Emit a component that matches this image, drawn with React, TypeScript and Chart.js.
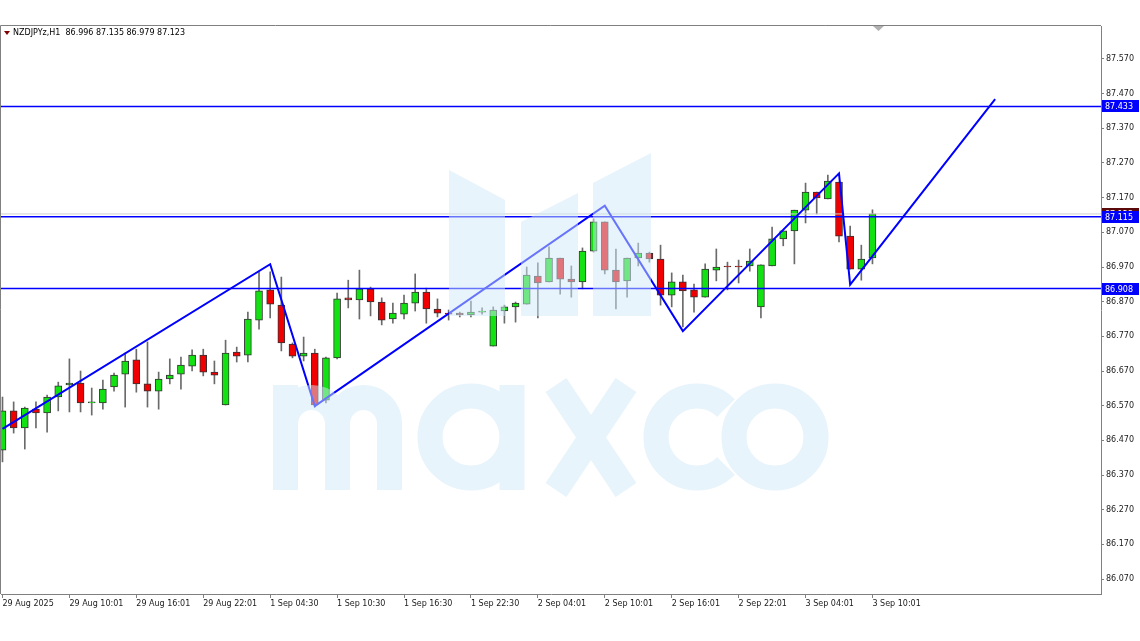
import React, { useEffect, useRef } from "react";
import { Chart, registerables } from "chart.js";

Chart.register(...registerables);

// ---------- data ----------
const symbolName = "NZDJPYz,H1";

const timeLabels = [
  "29 Aug 2025", "29 Aug 10:01", "29 Aug 16:01", "29 Aug 22:01",
  "1 Sep 04:30", "1 Sep 10:30", "1 Sep 16:30", "1 Sep 22:30",
  "2 Sep 04:01", "2 Sep 10:01", "2 Sep 16:01", "2 Sep 22:01",
  "3 Sep 04:01", "3 Sep 10:01",
];
const timeTickIndex = [0, 6, 12, 18, 24, 30, 36, 42, 48, 54, 60, 66, 72, 78];

const priceTicks = [
  86.07, 86.17, 86.27, 86.37, 86.47, 86.57, 86.67, 86.77,
  86.87, 86.97, 87.07, 87.17, 87.27, 87.37, 87.47, 87.57,
];

const opens = [
  86.442, 86.555, 86.506, 86.560, 86.549, 86.595, 86.630, 86.635, 86.578, 86.578,
  86.624, 86.661, 86.702, 86.633, 86.612, 86.647, 86.661, 86.684, 86.716, 86.667,
  86.572, 86.725, 86.716, 86.817, 86.904, 86.860, 86.748, 86.713, 86.722, 86.586,
  86.708, 86.881, 86.875, 86.907, 86.869, 86.820, 86.834, 86.866, 86.898, 86.849,
  86.837, 86.837, 86.832, 86.840, 86.742, 86.843, 86.855, 86.863, 86.944, 86.927,
  86.996, 86.935, 86.927, 87.016, 87.100, 86.961, 86.930, 86.996, 87.010, 86.993,
  86.889, 86.927, 86.904, 86.883, 86.961, 86.973, 86.973, 86.973, 86.855, 86.973,
  87.051, 87.074, 87.134, 87.186, 87.166, 87.215, 87.059, 86.964, 86.996,
];
const highs = [
  86.595, 86.581, 86.566, 86.581, 86.601, 86.638, 86.705, 86.670, 86.621, 86.644,
  86.664, 86.722, 86.733, 86.754, 86.667, 86.705, 86.710, 86.731, 86.733, 86.699,
  86.759, 86.739, 86.840, 86.956, 86.956, 86.941, 86.751, 86.768, 86.733, 86.710,
  86.895, 86.932, 86.961, 86.912, 86.881, 86.866, 86.889, 86.950, 86.909, 86.878,
  86.846, 86.840, 86.872, 86.852, 86.855, 86.860, 86.869, 86.970, 86.982, 87.028,
  86.996, 86.973, 87.025, 87.109, 87.100, 87.022, 86.996, 87.039, 87.013, 87.033,
  86.953, 86.947, 86.921, 86.979, 87.022, 86.984, 86.990, 87.022, 86.976, 87.085,
  87.074, 87.134, 87.212, 87.186, 87.235, 87.215, 87.088, 87.033, 87.135,
];
const lows = [
  86.408, 86.491, 86.445, 86.506, 86.494, 86.555, 86.552, 86.552, 86.543, 86.560,
  86.612, 86.566, 86.609, 86.566, 86.560, 86.633, 86.618, 86.670, 86.656, 86.633,
  86.572, 86.696, 86.696, 86.791, 86.823, 86.728, 86.708, 86.699, 86.566, 86.578,
  86.705, 86.852, 86.820, 86.829, 86.803, 86.808, 86.820, 86.843, 86.808, 86.826,
  86.817, 86.826, 86.826, 86.834, 86.742, 86.808, 86.811, 86.863, 86.823, 86.927,
  86.892, 86.883, 86.907, 87.013, 86.950, 86.849, 86.883, 86.973, 86.984, 86.860,
  86.855, 86.797, 86.840, 86.883, 86.930, 86.904, 86.924, 86.958, 86.823, 86.973,
  87.031, 86.979, 87.097, 87.123, 87.166, 87.042, 86.964, 86.932, 86.979,
];
const closes = [
  86.555, 86.506, 86.563, 86.549, 86.595, 86.627, 86.635, 86.578, 86.579, 86.618,
  86.658, 86.699, 86.633, 86.612, 86.647, 86.658, 86.687, 86.716, 86.667, 86.658,
  86.722, 86.713, 86.820, 86.901, 86.863, 86.751, 86.713, 86.722, 86.572, 86.708,
  86.878, 86.875, 86.907, 86.869, 86.817, 86.837, 86.866, 86.898, 86.849, 86.837,
  86.834, 86.832, 86.840, 86.843, 86.846, 86.855, 86.866, 86.947, 86.924, 86.996,
  86.935, 86.927, 87.016, 87.100, 86.961, 86.927, 86.996, 87.010, 86.993, 86.889,
  86.927, 86.901, 86.883, 86.964, 86.970, 86.970, 86.970, 86.987, 86.976, 87.051,
  87.074, 87.134, 87.186, 87.169, 87.218, 87.059, 86.964, 86.993, 87.123,
];

const zigzagIndex = [0, 24, 28, 54, 61, 75, 76, 89];
const zigzagPrice = [86.503, 86.978, 86.569, 87.147, 86.785, 87.240, 86.919, 87.454];

const levelPrices = [87.433, 87.115, 86.908];
const bidPrice = 87.123;

// ---------- style ----------
const X_MIN = -0.134;
const X_MAX = 98.49;
const Y_MIN = 86.027;
const Y_MAX = 87.665;
const GREEN = "#12e212";
const RED = "#f00000";
const BLUE = "#0000ff";
const FRAME = "#808080";
const FONT = { family: "'DejaVu Sans', sans-serif", size: 8 };
const WM = "rgba(208,233,247,0.5)";

const decorPlugin = {
  id: "decor",
  afterDatasetsDraw(chart: any) {
    const { ctx, chartArea: a } = chart;
    ctx.save();
    ctx.beginPath();
    ctx.rect(a.left, a.top, a.right - a.left, a.bottom - a.top);
    ctx.clip();
    // logo bars
    ctx.fillStyle = WM;
    ctx.beginPath();
    const polys = [
      [[449, 170], [505, 200], [505, 316], [449, 316]],
      [[521, 222], [578, 193], [578, 316], [521, 316]],
      [[593, 183], [651, 153], [651, 316], [593, 316]],
    ];
    for (const p of polys) {
      ctx.moveTo(p[0][0], p[0][1]);
      for (let i = 1; i < p.length; i++) ctx.lineTo(p[i][0], p[i][1]);
      ctx.closePath();
    }
    ctx.fill();
    // letters "maxco"
    ctx.strokeStyle = WM;
    ctx.lineWidth = 25;
    ctx.lineCap = "butt";
    ctx.lineJoin = "miter";
    ctx.beginPath();
    // m
    ctx.moveTo(285.5, 490); ctx.lineTo(285.5, 385);
    ctx.moveTo(285.5, 423.5); ctx.arc(311.5, 423.5, 26, Math.PI, 2 * Math.PI); ctx.lineTo(337.5, 490);
    ctx.moveTo(337.5, 423.5); ctx.arc(363.5, 423.5, 26, Math.PI, 2 * Math.PI); ctx.lineTo(389.5, 490);
    // a
    ctx.moveTo(512, 437); ctx.arc(471, 437, 41, 0, 2 * Math.PI);
    ctx.moveTo(512, 385); ctx.lineTo(512, 490);
    // x
    ctx.moveTo(556, 385); ctx.lineTo(626, 490);
    ctx.moveTo(626, 385); ctx.lineTo(556, 490);
    // c
    ctx.moveTo(697 + 41 * Math.cos(0.25 * Math.PI), 437 + 41 * Math.sin(0.25 * Math.PI));
    ctx.arc(697, 437, 41, 0.25 * Math.PI, 1.75 * Math.PI);
    // o
    ctx.moveTo(816, 437); ctx.arc(775, 437, 41, 0, 2 * Math.PI);
    ctx.stroke();
    ctx.restore();
  },
  afterDraw(chart: any) {
    const { ctx, chartArea: a, scales } = chart;
    const ys = scales.y;
    ctx.save();
    // frame (left & top)
    ctx.strokeStyle = FRAME;
    ctx.lineWidth = 1;
    ctx.beginPath();
    ctx.moveTo(a.left - 0.5, a.bottom);
    ctx.lineTo(a.left - 0.5, a.top - 0.5);
    ctx.lineTo(a.right, a.top - 0.5);
    ctx.stroke();
    // header
    ctx.fillStyle = "#800000";
    ctx.beginPath();
    ctx.moveTo(4, 31); ctx.lineTo(10, 31); ctx.lineTo(7, 35); ctx.closePath();
    ctx.fill();
    const n = closes.length - 1;
    const header = `${symbolName}  ${opens[n].toFixed(3)} ${highs[n].toFixed(3)} ${lows[n].toFixed(3)} ${closes[n].toFixed(3)}`;
    ctx.font = "8px 'DejaVu Sans', sans-serif";
    ctx.fillStyle = "#000";
    ctx.textBaseline = "middle";
    ctx.textAlign = "left";
    ctx.fillText(header, 13, 33);
    // shift marker
    ctx.fillStyle = "#b0b0b0";
    ctx.beginPath();
    ctx.moveTo(873, a.top); ctx.lineTo(884, a.top); ctx.lineTo(878.5, a.top + 5); ctx.closePath();
    ctx.fill();
    // price labels on the axis
    const drawLabel = (price: number, bg: string) => {
      const yy = Math.round(ys.getPixelForValue(price));
      ctx.fillStyle = bg;
      ctx.fillRect(a.right + 1, yy - 6, 37, 12);
      ctx.fillStyle = "#ffffff";
      ctx.fillText(price.toFixed(3), a.right + 4, yy + 0.5);
    };
    drawLabel(bidPrice, "#5a0a0a");
    for (const p of levelPrices) drawLabel(p, BLUE);
    ctx.restore();
  },
};

export default function App() {
  const ref = useRef<HTMLCanvasElement | null>(null);
  useEffect(() => {
    document.body.style.margin = "0";
    const idx = opens.map((_, i) => i);
    const wickData = idx.map((i) => ({ x: i, y: [lows[i], highs[i]] }));
    const bodyData = idx.map((i) => ({ x: i, y: [opens[i], closes[i]] }));
    const bodyColors = idx.map((i) => (closes[i] >= opens[i] ? GREEN : RED));
    const levelSets = levelPrices.map((p) => ({
      type: "line",
      data: [{ x: X_MIN, y: p }, { x: X_MAX, y: p }],
      borderColor: BLUE,
      borderWidth: 1.5,
      pointRadius: 0,
      fill: false,
      order: 2,
    }));
    const chart = new Chart(ref.current as HTMLCanvasElement, {
      type: "bar",
      data: {
        datasets: [
          {
            type: "bar",
            data: wickData,
            backgroundColor: "#6a6a6a",
            barThickness: 1,
            grouped: false,
            order: 6,
          },
          {
            type: "bar",
            data: bodyData,
            backgroundColor: bodyColors,
            borderColor: "#333333",
            borderWidth: 1,
            borderSkipped: false,
            barThickness: 7,
            minBarLength: 1,
            grouped: false,
            order: 5,
          },
          {
            type: "line",
            data: [{ x: X_MIN, y: bidPrice }, { x: X_MAX, y: bidPrice }],
            borderColor: "#cfcfcf",
            borderWidth: 1,
            pointRadius: 0,
            fill: false,
            order: 3,
          },
          ...levelSets,
          {
            type: "line",
            data: zigzagIndex.map((x, i) => ({ x, y: zigzagPrice[i] })),
            borderColor: BLUE,
            borderWidth: 2,
            pointRadius: 0,
            tension: 0,
            fill: false,
            order: 1,
          },
        ] as any,
      },
      options: {
        responsive: false,
        maintainAspectRatio: false,
        animation: false,
        layout: { padding: { top: 26, left: 1, right: 0, bottom: 0 } },
        plugins: {
          legend: { display: false },
          tooltip: { enabled: false },
          title: { display: false },
        },
        scales: {
          x: {
            type: "linear",
            min: X_MIN,
            max: X_MAX,
            offset: false,
            position: "bottom",
            grid: { display: true, drawOnChartArea: false, offset: false, tickLength: 4, color: FRAME },
            border: { display: true, color: FRAME },
            afterBuildTicks: (s: any) => {
              s.ticks = timeTickIndex.map((v) => ({ value: v }));
            },
            afterFit: (s: any) => {
              s.height = 47;
            },
            ticks: {
              autoSkip: false,
              maxRotation: 0,
              minRotation: 0,
              align: "start",
              padding: 1,
              font: FONT,
              color: "#1a1a1a",
              callback: (_v: any, i: number) => timeLabels[i],
            },
          },
          y: {
            type: "linear",
            position: "right",
            min: Y_MIN,
            max: Y_MAX,
            beginAtZero: false,
            grid: { display: true, drawOnChartArea: false, tickLength: 3, color: FRAME },
            border: { display: true, color: FRAME },
            afterBuildTicks: (s: any) => {
              s.ticks = priceTicks.map((v) => ({ value: v }));
            },
            afterFit: (s: any) => {
              s.width = 39;
            },
            ticks: {
              padding: 2,
              font: FONT,
              color: "#1a1a1a",
              callback: (v: any) => Number(v).toFixed(3),
            },
          },
        },
      } as any,
      plugins: [decorPlugin],
    });
    return () => chart.destroy();
  }, []);
  return (
    <div style={{ position: "fixed", left: 0, top: 0, width: 1140, height: 641, background: "#fff" }}>
      <canvas ref={ref} width={1140} height={641} style={{ display: "block" }} />
    </div>
  );
}
